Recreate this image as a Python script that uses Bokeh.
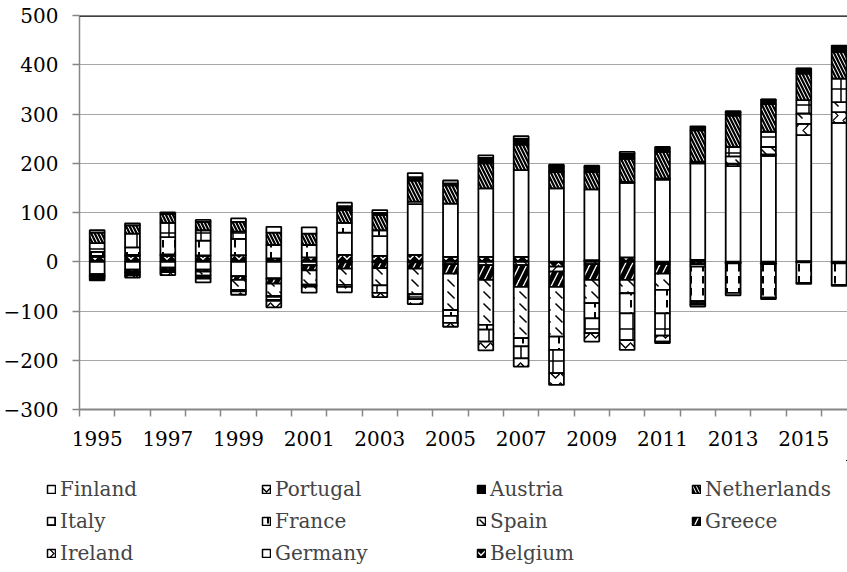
from bokeh.plotting import figure
from bokeh.layouts import column
from bokeh.models import Range1d, FixedTicker, Span, Legend, LegendItem, ColumnDataSource
from bokeh.embed import file_html
from bokeh.resources import INLINE

years = [str(y) for y in range(1995, 2017)]

# stacking order (bottom -> top for positive, top -> bottom for negative)
countries = ["Belgium", "Germany", "Ireland", "Greece", "Spain", "France",
             "Italy", "Netherlands", "Austria", "Portugal", "Finland"]

belgium = [10, 12, 12, 12, 13, 7, 9, 14, 12, 14, 10, 10, 10, -10, 3, 9, -5, 4, -1, -3, 1, -1]
germany = [-25, -16, -12, -16, -29, -34, -7, 45, 40, 103, 108, 139, 176, 149, 144, 151, 167, 196, 194, 215, 256, 282]
ireland = [2, 2, 2, 1, 0.5, -0.5, -0.7, -1, -1, -1, -5, -7, -7, -10, -5, 2, 2, 3, 5, 3, 23, 22]
greece = [-3, -4, -4, -4, -8, -10, -10, -13, -12, -13, -19, -30, -44, -31, -32, -37, -19, -5, -2, -2, -1, -2]
spain = [-2, -2, 1, -8, -20, -25, -29, -33, -35, -52, -74, -91, -104, -101, -47, -27, -33, -5, 15, 15, 21, 20]
france = [8, 15, 35, 30, 33, 27, 25, 20, 12, 5, -12, -10, -17, -27, -31, -41, -48, -70, -60, -68, -42, -44]
italy = [18, 28, 29, 21, 14.5, -8, -2, -4, -15, -10, -14, -24, -24, -47, -30, -54, -45, -4, 19, 31, 27, 48]
netherlands = [21, 17, 18, 17, 20, 25, 23, 26, 31, 43, 37, 51, 52, 33, 35, 47, 54, 64, 64, 56, 54, 54]
austria = [-4, -5, -5, -6, -3, -2, -2, 8, 4, 7, 4, 11, 12, 12, 10, 10, 10, 8, 6, 9, 10, 12]
portugal = [-4, -5, -6, -8, -7, -13, -12, -11, -9, -10, -8, -18, -17, -24, -17, -20, -12, -3, 3, 0.5, 0.5, 1]
finland = [5, 4, 3, 4, 7, 12, 13, 7, 6, 8, 6, 5, 5, 3, 3, 4, -3, -4, -5, -3, -2, -2]

series = [belgium, germany, ireland, greece, spain, france, italy,
          netherlands, austria, portugal, finland]

legend_order = ["Finland", "Portugal", "Austria", "Netherlands",
                "Italy", "France", "Spain", "Greece",
                "Ireland", "Germany", "Belgium"]

styles = {
    "Belgium":     dict(fill_color="black", hatch_pattern="horizontal_wave", hatch_color="white", hatch_scale=9, hatch_weight=1.5),
    "Germany":     dict(fill_color="white", hatch_pattern=None, hatch_color="black", hatch_scale=8, hatch_weight=1),
    "Ireland":     dict(fill_color="white", hatch_pattern="vertical_wave", hatch_color="black", hatch_scale=10, hatch_weight=1.2),
    "Greece":      dict(fill_color="white", hatch_pattern="right_diagonal_line", hatch_color="black", hatch_scale=14, hatch_weight=5),
    "Spain":       dict(fill_color="white", hatch_pattern="left_diagonal_dash", hatch_color="black", hatch_scale=12, hatch_weight=1.5),
    "France":      dict(fill_color="white", hatch_pattern="vertical_dash", hatch_color="black", hatch_scale=12, hatch_weight=2),
    "Italy":       dict(fill_color="white", hatch_pattern="cross", hatch_color="black", hatch_scale=16, hatch_weight=1.5),
    "Netherlands": dict(fill_color="white", hatch_pattern="left_diagonal_line", hatch_color="black", hatch_scale=7, hatch_weight=2.2),
    "Austria":     dict(fill_color="black", hatch_pattern=None, hatch_color="black", hatch_scale=8, hatch_weight=1),
    "Portugal":    dict(fill_color="white", hatch_pattern="horizontal_wave", hatch_color="black", hatch_scale=10, hatch_weight=1.5),
    "Finland":     dict(fill_color="white", hatch_pattern=None, hatch_color="black", hatch_scale=8, hatch_weight=1),
}

FONT = "DejaVu Serif"
GREY = "#868686"

xc = [i + 0.5 for i in range(len(years))]

p = figure(width=847, height=460,
           x_range=Range1d(0, 21.737), y_range=Range1d(-300, 500),
           output_backend="svg", toolbar_location=None,
           min_border_left=79, min_border_right=0,
           min_border_top=15, min_border_bottom=51)
p.outline_line_color = None
p.background_fill_color = "white"

# stacked segments
pos_base = [0.0] * len(years)
neg_base = [0.0] * len(years)
sources = {}
for name, vals in zip(countries, series):
    xs, tops, bottoms = [], [], []
    for i, v in enumerate(vals):
        if v > 0:
            xs.append(xc[i]); bottoms.append(pos_base[i]); tops.append(pos_base[i] + v)
            pos_base[i] += v
        elif v < 0:
            xs.append(xc[i]); tops.append(neg_base[i]); bottoms.append(neg_base[i] + v)
            neg_base[i] += v
    src = ColumnDataSource(dict(x=xs, top=tops, bottom=bottoms))
    sources[name] = src
    p.vbar(x="x", top="top", bottom="bottom", width=0.42, source=src,
           line_color="black", line_width=1.8, **styles[name])

# grid
p.xgrid.visible = False
p.ygrid.ticker = FixedTicker(ticks=list(range(-300, 501, 100)))
p.ygrid.grid_line_color = "#a6a6a6"
p.ygrid.grid_line_width = 1

p.add_layout(Span(location=500, dimension="width", line_color="black", line_width=2.5))

# y axis
ya = p.yaxis[0]
ya.ticker = FixedTicker(ticks=list(range(-300, 501, 100)), minor_ticks=[])
ya.axis_line_color = GREY
ya.axis_line_width = 1.5
ya.major_tick_line_color = GREY
ya.major_tick_line_width = 1.5
ya.major_tick_out = 7
ya.major_tick_in = 0
ya.minor_tick_line_color = None
ya.major_label_text_font = FONT
ya.major_label_text_font_size = "20px"
ya.major_label_text_color = "black"
ya.major_label_standoff = 14

# x axis
xa = p.xaxis[0]
label_pos = [xc[i] for i in range(0, len(years), 2)]
xa.ticker = FixedTicker(ticks=label_pos, minor_ticks=list(range(0, len(years) + 1)))
xa.major_label_overrides = {xc[i]: years[i] for i in range(0, len(years), 2)}
xa.axis_line_color = GREY
xa.axis_line_width = 2
xa.major_tick_line_color = None
xa.major_tick_out = 0
xa.major_tick_in = 0
xa.minor_tick_line_color = GREY
xa.minor_tick_line_width = 1.5
xa.minor_tick_out = 7
xa.minor_tick_in = 0
xa.major_label_text_font = FONT
xa.major_label_text_font_size = "20px"
xa.major_label_text_color = "black"
xa.major_label_standoff = 14

# legend panel: a figure without axes below the chart; its renderers share the
# bar sources but its ranges keep the bars out of view, so only the legend shows
lg = figure(width=847, height=112, x_range=Range1d(-1000, -999), y_range=Range1d(-1000, -999),
            output_backend="svg", toolbar_location=None,
            x_axis_location=None, y_axis_location=None,
            min_border_left=0, min_border_right=0, min_border_top=0, min_border_bottom=0)
lg.grid.visible = False
lg.outline_line_color = None

# keep the legend figure's frame independent from the chart's frame
for fig in (p, lg):
    if "frame_align" in fig.properties():
        fig.frame_align = False

items = []
for n in legend_order:
    r = lg.vbar(x="x", top="top", bottom="bottom", width=0.42, source=sources[n],
                line_color="black", line_width=1.5, **styles[n])
    items.append(LegendItem(label=n, renderers=[r]))
legend = Legend(items=items, location=(46, 7), orientation="horizontal", ncols=4,
                glyph_width=10, glyph_height=10, label_standoff=4,
                label_width=193, label_height=22, spacing=8, padding=0, margin=0,
                label_text_font=FONT, label_text_font_size="20px",
                border_line_color=None, background_fill_alpha=0)
lg.add_layout(legend, "center")

layout = column(p, lg, spacing=0)
open("out.html", "w").write(file_html(layout, INLINE))
